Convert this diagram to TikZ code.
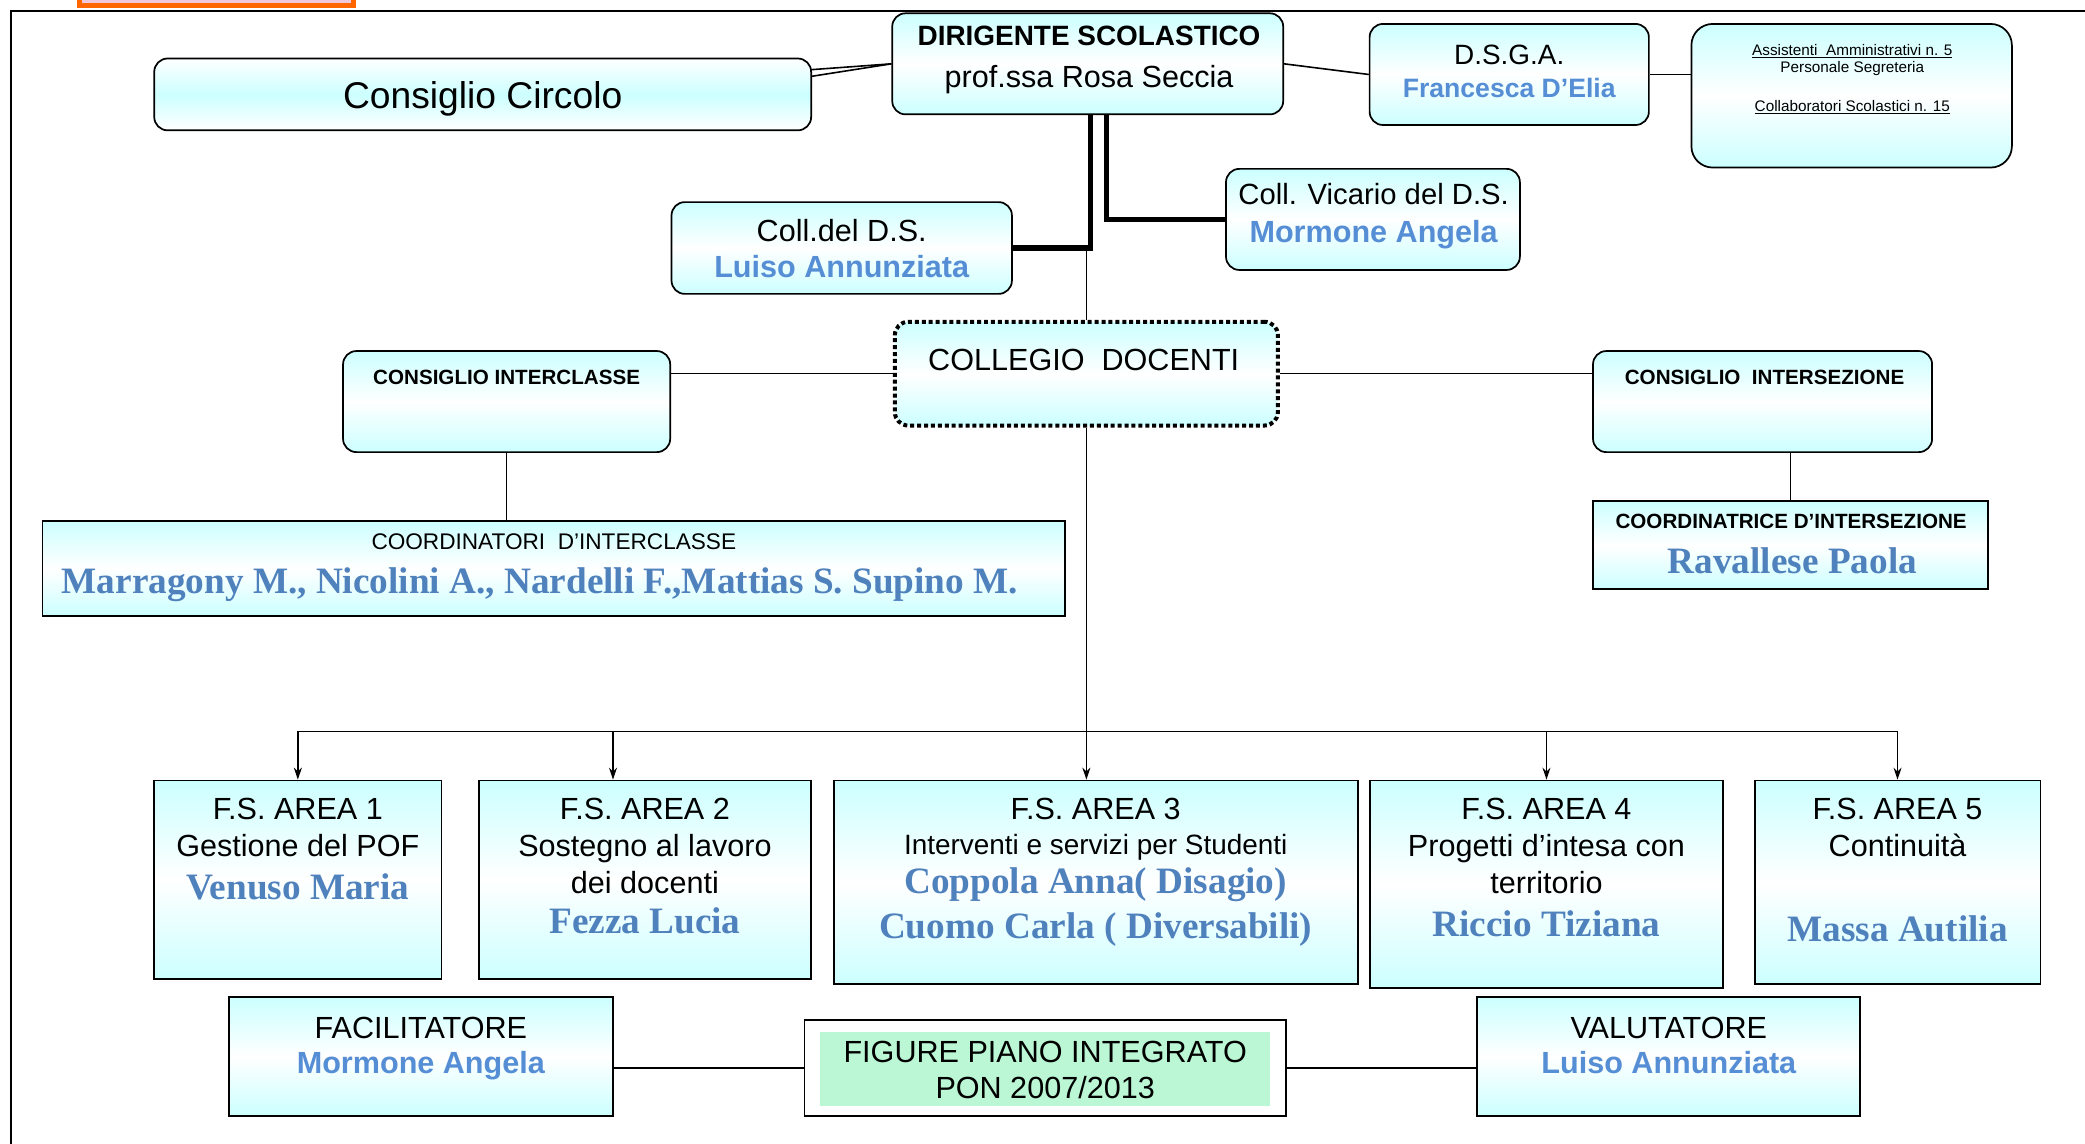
\documentclass[tikz,border=0pt]{standalone}
\usepackage{fontspec}
\setmainfont{Liberation Sans}
\newfontfamily\serifnames{Liberation Serif}
\usetikzlibrary{arrows.meta,calc,positioning}
\definecolor{celeste}{RGB}{204,255,255}
\definecolor{nameblue}{RGB}{85,142,213}
\definecolor{serifblue}{RGB}{79,129,189}
\definecolor{pongreen}{RGB}{187,247,212}
\definecolor{logoorange}{RGB}{255,102,0}
\definecolor{logopink}{RGB}{240,200,220}
\tikzstyle{rbox} = [draw=black, line width=1.3pt, rounded corners=10pt, top color=celeste, bottom color=celeste, middle color=white, inner sep=0pt]
\tikzstyle{sbox} = [draw=black, line width=1.4pt, top color=celeste, bottom color=celeste, middle color=white, inner sep=0pt]
\tikzstyle{dotbox} = [rbox, line width=3pt, dash pattern=on 3pt off 2.2pt]
\tikzstyle{txt} = [anchor=north, inner sep=0pt, align=center, font=\fontsize{23}{28}\selectfont]
\tikzstyle{caps} = [txt, font=\fontsize{15.5}{18}\selectfont\bfseries]
\tikzstyle{bname} = [txt, text=nameblue, font=\fontsize{23}{28}\selectfont\bfseries]
\tikzstyle{sname} = [txt, text=serifblue, font=\serifnames\fontsize{28}{34}\selectfont\bfseries]
\tikzstyle{link} = [line width=1.2pt]
\tikzstyle{heavy} = [line width=4pt]
\tikzstyle{arrow} = [line width=1.2pt,-{Stealth[length=9pt,width=6pt]}]

\begin{document}
\begin{tikzpicture}[x=1pt,y=-1pt]
\useasboundingbox (0,0) rectangle (1568,860);
\fill [logoorange] (58,0) rectangle (268,6);
\fill [logopink] (62,0) rectangle (264,2.5);
\draw [line width=1.3pt] (8,860) -- (8,8) -- (1568,8);

% boxes
\node[rbox, top color=white, bottom color=white, middle color=celeste, minimum width=494pt, minimum height=54pt] (circolo) at (363,71) {};
\node[rbox, minimum width=294pt, minimum height=76pt] (dirigente) at (818,48) {};
\node[rbox, minimum width=210pt, minimum height=76pt] (dsga) at (1135,56) {};
\node[rbox, rounded corners=16pt, minimum width=241pt, minimum height=108pt] (assist) at (1392.5,72) {};
\node[rbox, minimum width=221pt, minimum height=76pt] (vicario) at (1032.5,165) {};
\node[rbox, minimum width=256pt, minimum height=69pt] (colldel) at (633,186.5) {};
\node[dotbox, minimum width=288pt, minimum height=78pt] (collegio) at (817,281) {};
\node[rbox, minimum width=246pt, minimum height=76pt] (interclasse) at (381,302) {};
\node[rbox, minimum width=255pt, minimum height=76pt] (intersezione) at (1325.5,302) {};
\node[sbox, minimum width=769pt, minimum height=71pt] (coordinter) at (416.5,427.5) {};
\node[sbox, minimum width=297pt, minimum height=66pt] (coordsez) at (1346.5,410) {};
\node[sbox, minimum width=216pt, minimum height=149pt] (area1) at (224,661.5) {};
\node[sbox, minimum width=250pt, minimum height=149pt] (area2) at (485,661.5) {};
\node[sbox, minimum width=394pt, minimum height=153pt] (area3) at (824,663.5) {};
\node[sbox, minimum width=266pt, minimum height=156pt] (area4) at (1163,665) {};
\node[sbox, minimum width=215pt, minimum height=153pt] (area5) at (1427,663.5) {};
\node[sbox, minimum width=289pt, minimum height=89pt] (facil) at (316.5,794.5) {};
\node[draw, line width=1.3pt, fill=white, inner sep=0pt, minimum width=362pt, minimum height=72pt] (figure) at (786,803) {};
\node[fill=pongreen, inner sep=0pt, minimum width=338pt, minimum height=56pt] (figfill) at (786,804) {};
\node[sbox, minimum width=288pt, minimum height=89pt] (valut) at (1255,794.5) {};

% connectors
\draw [link] (dirigente.west) -- ([yshift=-9pt]circolo.north east);
\draw [link] (dirigente.west) -- ([yshift=-14pt]circolo.north east);
\draw [link] (dirigente.east) -- (dsga.west);
\draw [link] (dsga.east) -- (dsga.east -| assist.west);
\draw [link] (collegio.north) -- (collegio.north |- colldel.east);
\draw [heavy] ([xshift=2pt]dirigente.south) |- (colldel.east);
\draw [heavy] ([xshift=14pt]dirigente.south) |- (vicario.west);
\draw [link] (collegio.west) -- (collegio.west -| interclasse.east);
\draw [link] (collegio.east) -- (collegio.east -| intersezione.west);
\draw [link] (interclasse.south) -- (interclasse.south |- coordinter.north);
\draw [link] (coordsez.north) -- (coordsez.north |- intersezione.south);
\coordinate (busl) at (224,550);
\coordinate (busr) at (1427,550);
\coordinate (drop2) at (461,550);
\draw [link] (collegio.south) -- (collegio.south |- busl);
\draw [link] (busl) -- (busr);
\draw [arrow] (busl) -- (area1.north);
\draw [arrow] (drop2) -- (drop2 |- area2.north);
\draw [arrow] (collegio.south |- busl) -- (collegio.south |- area3.north);
\draw [arrow] (area4.north |- busl) -- (area4.north);
\draw [arrow] (busr) -- (area5.north);
\draw [link] (figure.west) -- (figure.west -| facil.east);
\draw [link] (figure.east) -- (figure.east -| valut.west);

% texts
\node[txt, font=\fontsize{28}{33}\selectfont] (circolo-t) at (363,61) {Consiglio Circolo};
\node[txt, font=\fontsize{21}{25}\selectfont\bfseries] (dirigente-t) at (819,19.5) {DIRIGENTE SCOLASTICO};
\node[txt] (dirigente-n) at (819,48.7) {prof.ssa Rosa Seccia};
\node[txt, font=\fontsize{21}{25}\selectfont] (dsga-t) at (1135,33.5) {D.S.G.A.};
\node[bname, font=\fontsize{20}{24}\selectfont\bfseries] (dsga-n) at (1135,58.8) {Francesca D’Elia};
\node[txt, font=\fontsize{11.5}{13}\selectfont] (assist-t) at (1393,33) {\underline{Assistenti\ \ Amministrativi n. 5}\\Personale Segreteria};
\node[txt, font=\fontsize{11.5}{13}\selectfont] (assist-c) at (1393,75) {\underline{Collaboratori Scolastici n. 15}};
\node[txt, font=\fontsize{22}{26}\selectfont] (vicario-t) at (1033,138) {Coll. Vicario del D.S.};
\node[bname] (vicario-n) at (1033,165.7) {Mormone Angela};
\node[txt] (colldel-t) at (633,164.7) {Coll.del D.S.};
\node[bname] (colldel-n) at (633,191.7) {Luiso Annunziata};
\node[txt] (collegio-t) at (815,262.7) {COLLEGIO\ \ DOCENTI};
\node[caps] (interclasse-t) at (381,278.5) {CONSIGLIO INTERCLASSE};
\node[caps] (intersezione-t) at (1327,278.5) {CONSIGLIO\ \ INTERSEZIONE};
\node[txt, font=\fontsize{17}{20}\selectfont] (coordinter-t) at (416.5,401) {COORDINATORI\ \ D’INTERCLASSE};
\node[sname] (coordinter-n) at (406,426.5) {Marragony M., Nicolini A., Nardelli F.,Mattias S. Supino M.};
\node[caps] (coordsez-t) at (1347,386.5) {COORDINATRICE D’INTERSEZIONE};
\node[sname] (coordsez-n) at (1348,411.5) {Ravallese Paola};
\node[txt] (area1-t) at (224,599.7) {F.S. AREA 1\\Gestione del POF};
\node[sname] (area1-n) at (224,656.5) {Venuso Maria};
\node[txt] (area2-t) at (485,599.7) {F.S. AREA 2\\Sostegno al lavoro\\dei docenti};
\node[sname] (area2-n) at (485,682.5) {Fezza Lucia};
\node[txt] (area3-t) at (824,599.7) {F.S. AREA 3};
\node[txt, font=\fontsize{21}{25}\selectfont] (area3-s) at (824,627.5) {Interventi e servizi per Studenti};
\node[sname] (area3-n) at (824,652.5) {Coppola Anna( Disagio)\\Cuomo Carla ( Diversabili)};
\node[txt] (area4-t) at (1163,599.7) {F.S. AREA 4\\Progetti d’intesa con\\territorio};
\node[sname] (area4-n) at (1163,684.5) {Riccio Tiziana};
\node[txt] (area5-t) at (1427,599.7) {F.S. AREA 5\\Continuità};
\node[sname] (area5-n) at (1427,688.5) {Massa Autilia};
\node[txt] (facil-t) at (316.5,764.7) {FACILITATORE};
\node[bname] (facil-n) at (316.5,790.7) {Mormone Angela};
\node[txt, font=\fontsize{23}{27}\selectfont] (figure-t) at (786,782.7) {FIGURE PIANO INTEGRATO\\PON 2007/2013};
\node[txt] (valut-t) at (1255,764.7) {VALUTATORE};
\node[bname] (valut-n) at (1255,790.7) {Luiso Annunziata};
\end{tikzpicture}
\end{document}
